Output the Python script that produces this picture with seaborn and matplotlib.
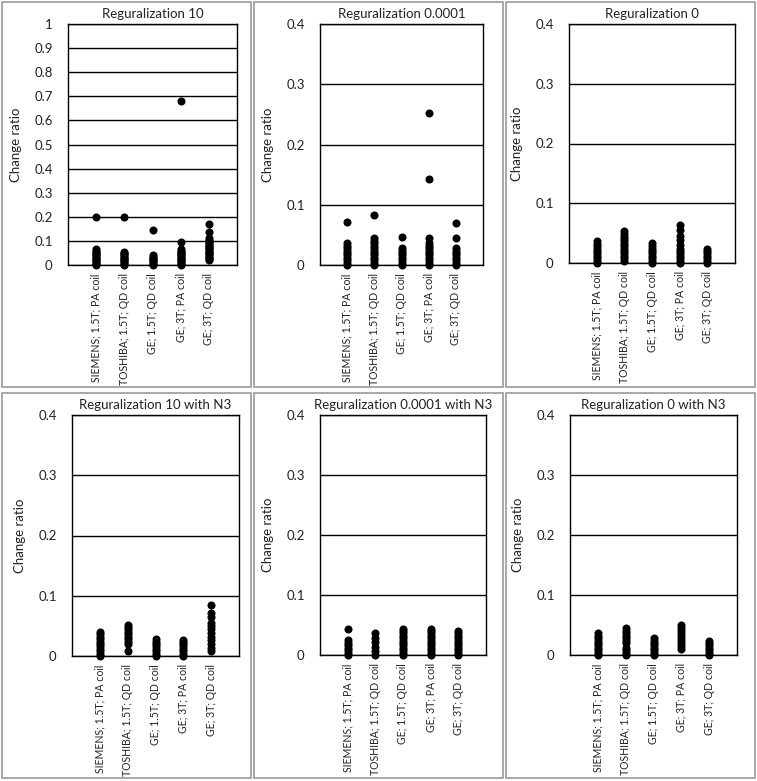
import matplotlib
matplotlib.use('Agg')

import matplotlib.pyplot as plt
from matplotlib.patches import Rectangle
from matplotlib.ticker import FuncFormatter
import seaborn as sns
import pandas as pd

W, H = 757, 781

categories = ['SIEMENS; 1.5T; PA coil', 'TOSHIBA; 1.5T; QD coil', 'GE; 1.5T; QD coil',
              'GE; 3T; PA coil', 'GE; 3T; QD coil']

titles = ['Reguralization 10', 'Reguralization 0.0001', 'Reguralization 0',
          'Reguralization 10 with N3', 'Reguralization 0.0001 with N3', 'Reguralization 0 with N3']

ymax = [1.0, 0.4, 0.4, 0.4, 0.4, 0.4]
ystep = [0.1, 0.1, 0.1, 0.1, 0.1, 0.1]

# change ratios, one list per scanner, per panel
reg10 = [
    [0.0, 0.005, 0.01, 0.015, 0.02, 0.025, 0.03, 0.035, 0.04, 0.045, 0.05, 0.055, 0.06, 0.065, 0.2],
    [0.0, 0.005, 0.01, 0.015, 0.02, 0.025, 0.03, 0.035, 0.04, 0.045, 0.05, 0.055, 0.2],
    [0.0, 0.005, 0.01, 0.015, 0.02, 0.025, 0.03, 0.035, 0.04, 0.145],
    [0.0, 0.005, 0.01, 0.015, 0.02, 0.025, 0.03, 0.035, 0.04, 0.045, 0.05, 0.055, 0.06, 0.065, 0.095, 0.68],
    [0.02, 0.025, 0.03, 0.035, 0.04, 0.045, 0.05, 0.055, 0.06, 0.065, 0.07, 0.075, 0.08, 0.085,
     0.09, 0.095, 0.1, 0.105, 0.11, 0.135, 0.17],
]
reg0001 = [
    [0.0, 0.004, 0.008, 0.012, 0.016, 0.02, 0.024, 0.028, 0.032, 0.036, 0.072],
    [0.0, 0.004, 0.008, 0.012, 0.016, 0.02, 0.024, 0.028, 0.032, 0.036, 0.04, 0.044, 0.083],
    [0.0, 0.004, 0.008, 0.012, 0.016, 0.02, 0.024, 0.029, 0.046],
    [0.0, 0.004, 0.008, 0.012, 0.016, 0.02, 0.024, 0.028, 0.032, 0.037, 0.044, 0.143, 0.252],
    [0.0, 0.004, 0.008, 0.012, 0.016, 0.02, 0.024, 0.029, 0.045, 0.069],
]
reg0 = [
    [0.0, 0.004, 0.008, 0.012, 0.016, 0.02, 0.024, 0.028, 0.032, 0.036],
    [0.003, 0.008, 0.012, 0.016, 0.02, 0.024, 0.028, 0.032, 0.036, 0.04, 0.044, 0.049, 0.054],
    [0.0, 0.004, 0.008, 0.012, 0.016, 0.02, 0.024, 0.029, 0.034],
    [0.0, 0.004, 0.008, 0.012, 0.016, 0.02, 0.024, 0.03, 0.038, 0.046, 0.056, 0.063],
    [0.0, 0.004, 0.008, 0.012, 0.016, 0.02, 0.024],
]
reg10_n3 = [
    [0.0, 0.004, 0.008, 0.012, 0.016, 0.02, 0.024, 0.028, 0.032, 0.036, 0.04],
    [0.008, 0.02, 0.024, 0.028, 0.032, 0.036, 0.04, 0.044, 0.048, 0.051],
    [0.0, 0.004, 0.008, 0.012, 0.016, 0.02, 0.024, 0.028],
    [0.0, 0.004, 0.008, 0.012, 0.016, 0.02, 0.024, 0.026],
    [0.008, 0.014, 0.02, 0.026, 0.032, 0.038, 0.044, 0.05, 0.055, 0.065, 0.072, 0.084],
]
reg0001_n3 = [
    [0.0, 0.004, 0.008, 0.012, 0.016, 0.02, 0.025, 0.043],
    [0.0, 0.007, 0.014, 0.021, 0.028, 0.036],
    [0.0, 0.004, 0.008, 0.012, 0.016, 0.02, 0.024, 0.028, 0.032, 0.036, 0.04, 0.044],
    [0.0, 0.004, 0.008, 0.012, 0.016, 0.02, 0.024, 0.028, 0.032, 0.036, 0.04, 0.044],
    [0.0, 0.004, 0.008, 0.012, 0.016, 0.02, 0.024, 0.028, 0.032, 0.036, 0.04],
]
reg0_n3 = [
    [0.0, 0.004, 0.008, 0.012, 0.016, 0.02, 0.024, 0.028, 0.032, 0.036],
    [0.0, 0.004, 0.008, 0.012, 0.02, 0.024, 0.028, 0.032, 0.036, 0.04, 0.045],
    [0.0, 0.004, 0.008, 0.012, 0.016, 0.02, 0.024, 0.028],
    [0.01, 0.015, 0.02, 0.025, 0.03, 0.035, 0.04, 0.045, 0.05],
    [0.0, 0.004, 0.008, 0.012, 0.016, 0.02, 0.023],
]
panels = [reg10, reg0001, reg0, reg10_n3, reg0001_n3, reg0_n3]

# axes boxes in pixels: left, right, top, bottom
axes_px = [(68, 237, 24, 265), (320, 483, 24, 265), (569, 735, 24, 263),
           (72, 239, 415, 656), (320, 486, 415, 655), (570, 737, 415, 655)]
# outer gray frames in pixels
frames_px = [(2, 251, 2, 387), (254, 503, 2, 387), (506, 755, 2, 387),
             (2, 251, 393, 778), (254, 503, 393, 778), (506, 755, 393, 778)]

sns.set_style('white')
plt.rcParams['font.family'] = ['Lato', 'DejaVu Sans']
plt.rcParams['font.size'] = 9

fig = plt.figure(figsize=(W / 100, H / 100), dpi=100)

for (l, r, t, b) in frames_px:
    fig.patches.append(Rectangle((l / W, 1 - b / H), (r - l) / W, (b - t) / H,
                                 transform=fig.transFigure, fill=False,
                                 edgecolor='#9a9a9a', lw=1.2))

for i, data in enumerate(panels):
    l, r, t, b = axes_px[i]
    ax = fig.add_axes([l / W, 1 - b / H, (r - l) / W, (b - t) / H])

    rows = []
    for cat, vals in zip(categories, data):
        for v in vals:
            rows.append({'scanner': cat, 'ratio': v})
    df = pd.DataFrame(rows)

    sns.stripplot(data=df, x='scanner', y='ratio', order=categories, jitter=False,
                  color='black', size=5.8, ax=ax, clip_on=False, zorder=3)

    ax.set_xlim(-1, 5)
    ax.set_ylim(0, ymax[i])
    n = int(round(ymax[i] / ystep[i]))
    ax.set_yticks([k * ystep[i] for k in range(n + 1)])
    ax.yaxis.set_major_formatter(FuncFormatter(lambda v, p: '%g' % round(v, 4)))
    ax.yaxis.grid(True, color='black', lw=1)
    ax.set_axisbelow(True)
    for s in ax.spines.values():
        s.set_visible(True)
        s.set_color('black')
        s.set_linewidth(1)

    ax.tick_params(axis='y', length=0, pad=11, labelsize=9.5, colors='#222222')
    ax.tick_params(axis='x', length=0, pad=6, labelsize=7.6, colors='#222222')
    ax.set_xticks(range(len(categories)))
    ax.set_xticklabels(categories, rotation=90, va='top', ha='center')
    ax.set_xlabel('')
    ax.set_ylabel('Change ratio', fontsize=9.5, color='#222222', labelpad=9)
    ax.set_title(titles[i], fontsize=9.5, color='#222222', pad=4)

fig.savefig('out.png', dpi=100)
